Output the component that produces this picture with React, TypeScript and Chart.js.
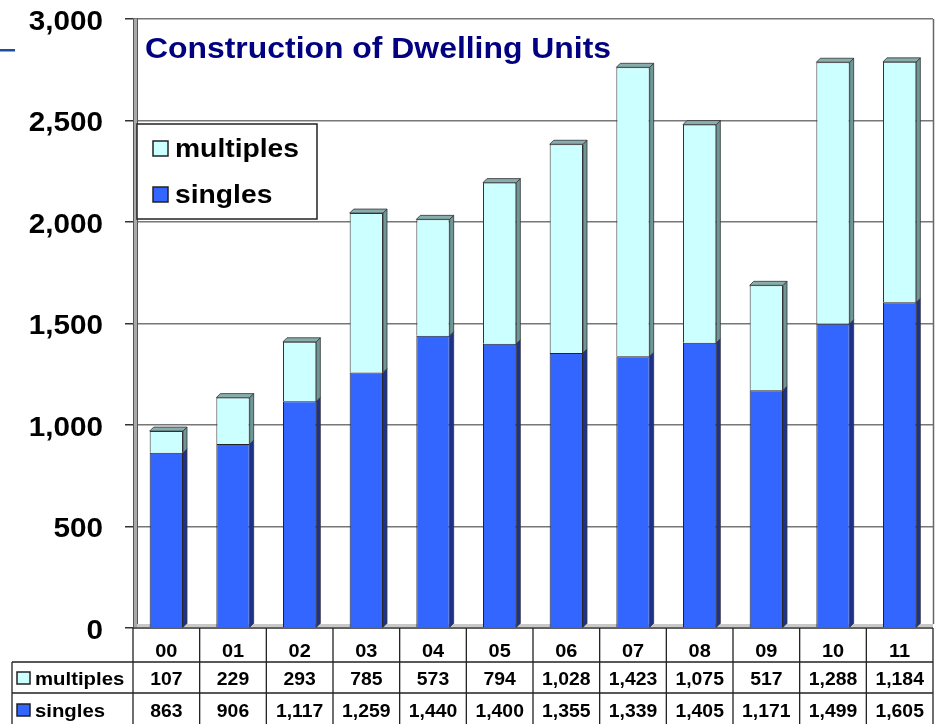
import { useEffect, useRef } from 'react';
import { Chart, registerables } from 'chart.js';

Chart.register(...registerables);

const categories = ['00', '01', '02', '03', '04', '05', '06', '07', '08', '09', '10', '11'];
const singles = [863, 906, 1117, 1259, 1440, 1400, 1355, 1339, 1405, 1171, 1499, 1605];
const multiples = [107, 229, 293, 785, 573, 794, 1028, 1423, 1075, 517, 1288, 1184];
const yTickValues = [0, 500, 1000, 1500, 2000, 2500, 3000];
const yTickLabels = ['0', '500', '1,000', '1,500', '2,000', '2,500', '3,000'];
const seriesNames = ['multiples', 'singles'];
const chartTitle = 'Construction of Dwelling Units';

const FONT = 'Arial, "Liberation Sans", Helvetica, sans-serif';
const COL_SINGLES = '#3366ff';
const COL_MULTIPLES = '#ccffff';
const SIDE_SINGLES = '#1c328c';
const SIDE_MULTIPLES = '#6f9797';
const TOP_MULTIPLES = '#88adad';
const LINE = '#222222';

function drawText(
  ctx: CanvasRenderingContext2D,
  s: string,
  x: number,
  y: number,
  align: 'left' | 'right' | 'center',
  size: number,
  color: string,
  sx: number,
  bold = true
) {
  ctx.save();
  ctx.font = `${bold ? 'bold ' : ''}${size}px ${FONT}`;
  ctx.fillStyle = color;
  ctx.textBaseline = 'alphabetic';
  ctx.textAlign = 'left';
  const w = ctx.measureText(s).width * sx;
  const left = align === 'left' ? x : align === 'right' ? x - w : x - w / 2;
  ctx.translate(left, y);
  ctx.scale(sx, 1);
  ctx.fillText(s, 0, 0);
  ctx.restore();
}

function fmt(v: number) {
  return v.toLocaleString('en-US');
}

const decoPlugin = {
  id: 'deco3d',
  beforeDatasetsDraw(chart: any) {
    const { ctx, chartArea: a } = chart;
    ctx.save();
    // floor band
    ctx.fillStyle = '#c8c8c8';
    ctx.fillRect(a.left, a.bottom - 4, a.right - a.left, 4);
    // left wall
    ctx.fillStyle = '#a9a9a9';
    ctx.fillRect(a.left, a.top, 4, a.bottom - a.top);
    ctx.strokeStyle = '#555';
    ctx.lineWidth = 1;
    ctx.beginPath();
    ctx.moveTo(a.left + 0.5, a.top);
    ctx.lineTo(a.left + 0.5, a.bottom);
    ctx.moveTo(a.left + 4.5, a.top - 1);
    ctx.lineTo(a.left + 4.5, a.bottom - 4);
    ctx.stroke();
    // floor line
    ctx.strokeStyle = '#444';
    ctx.lineWidth = 1.5;
    ctx.beginPath();
    ctx.moveTo(a.left, a.bottom);
    ctx.lineTo(a.right, a.bottom);
    ctx.stroke();
    // right border of back wall
    ctx.strokeStyle = '#666';
    ctx.lineWidth = 1.5;
    ctx.beginPath();
    ctx.moveTo(a.right + 0.5, a.top);
    ctx.lineTo(a.right + 0.5, a.bottom - 4);
    ctx.stroke();
    ctx.restore();
  },
  afterDatasetsDraw(chart: any) {
    const { ctx } = chart;
    const d = 4;
    const nSets = chart.data.datasets.length;
    ctx.save();
    ctx.lineWidth = 0.8;
    ctx.strokeStyle = '#333';
    for (let di = 0; di < nSets; di++) {
      const meta = chart.getDatasetMeta(di);
      const side = di === 0 ? SIDE_SINGLES : SIDE_MULTIPLES;
      meta.data.forEach((el: any) => {
        const { x, y, base, width } = el.getProps(['x', 'y', 'base', 'width'], true);
        const l = x - width / 2;
        const r = x + width / 2;
        ctx.fillStyle = side;
        ctx.beginPath();
        ctx.moveTo(r, y);
        ctx.lineTo(r + d, y - d);
        ctx.lineTo(r + d, base - d);
        ctx.lineTo(r, base);
        ctx.closePath();
        ctx.fill();
        ctx.stroke();
        if (di === nSets - 1) {
          ctx.fillStyle = TOP_MULTIPLES;
          ctx.beginPath();
          ctx.moveTo(l, y);
          ctx.lineTo(l + d, y - d);
          ctx.lineTo(r + d, y - d);
          ctx.lineTo(r, y);
          ctx.closePath();
          ctx.fill();
          ctx.stroke();
        }
      });
    }
    ctx.restore();
  },
  afterDraw(chart: any) {
    const { ctx, chartArea: a } = chart;
    const ys = chart.scales.y;
    const xs = chart.scales.x;

    // blue dash at top-left
    ctx.save();
    ctx.fillStyle = '#1f4e9e';
    ctx.fillRect(0, 49, 15, 2.5);
    ctx.restore();

    // y tick labels
    ys.ticks.forEach((t: any) => {
      const py = ys.getPixelForValue(t.value);
      drawText(ctx, String(t.label), 103, py + 10.5, 'right', 27, '#000', 1.1);
    });

    // title
    drawText(ctx, chartTitle, a.left + 12, 58, 'left', 29, '#000080', 1.1);

    // legend
    const lx = a.left + 4;
    const ly = 124;
    ctx.save();
    ctx.fillStyle = '#fff';
    ctx.fillRect(lx, ly, 180, 95);
    ctx.strokeStyle = LINE;
    ctx.lineWidth = 1.5;
    ctx.strokeRect(lx, ly, 180, 95);
    const legendColors = [COL_MULTIPLES, COL_SINGLES];
    const legendBase = [157, 203];
    seriesNames.forEach((name, i) => {
      ctx.fillStyle = legendColors[i];
      ctx.fillRect(lx + 16, legendBase[i] - 16, 15, 15);
      ctx.strokeStyle = LINE;
      ctx.lineWidth = 1.5;
      ctx.strokeRect(lx + 16, legendBase[i] - 16, 15, 15);
      drawText(ctx, name, lx + 38, legendBase[i], 'left', 25, '#000', 1.13);
    });
    ctx.restore();

    // data table
    const n = categories.length;
    const w = (a.right - a.left) / n;
    const rowTop = [a.bottom, 662, 693];
    const tableBottom = 724;
    ctx.save();
    ctx.strokeStyle = LINE;
    ctx.lineWidth = 1.3;
    ctx.beginPath();
    for (let i = 0; i <= n; i++) {
      const px = i < n ? xs.getPixelForValue(i) - w / 2 : xs.getPixelForValue(n - 1) + w / 2;
      ctx.moveTo(px, a.bottom);
      ctx.lineTo(px, tableBottom);
    }
    ctx.moveTo(12, rowTop[1]);
    ctx.lineTo(a.right, rowTop[1]);
    ctx.moveTo(12, rowTop[2]);
    ctx.lineTo(a.right, rowTop[2]);
    ctx.moveTo(12, rowTop[1]);
    ctx.lineTo(12, tableBottom);
    ctx.stroke();
    ctx.restore();

    categories.forEach((c, i) => {
      const px = xs.getPixelForValue(i);
      drawText(ctx, c, px, 657, 'center', 19, '#000', 1.05);
      drawText(ctx, fmt(multiples[i]), px, 685, 'center', 19, '#000', 1.02);
      drawText(ctx, fmt(singles[i]), px, 717, 'center', 19, '#000', 1.02);
    });

    const rowBase = [685, 717];
    seriesNames.forEach((name, i) => {
      ctx.save();
      ctx.fillStyle = legendColors[i];
      ctx.fillRect(17, rowBase[i] - 13, 13, 12);
      ctx.strokeStyle = LINE;
      ctx.lineWidth = 1.5;
      ctx.strokeRect(17, rowBase[i] - 13, 13, 12);
      ctx.restore();
      drawText(ctx, name, 35, rowBase[i], 'left', 19, '#000', 1.07);
    });
  },
};

export default function App() {
  const ref = useRef<HTMLCanvasElement | null>(null);

  useEffect(() => {
    if (!ref.current) return;
    const chart = new Chart(ref.current, {
      type: 'bar',
      data: {
        labels: categories,
        datasets: [
          {
            label: seriesNames[1],
            data: singles,
            backgroundColor: COL_SINGLES,
            borderColor: '#222',
            borderWidth: 1,
            categoryPercentage: 1,
            barPercentage: 0.5,
            stack: 's',
          },
          {
            label: seriesNames[0],
            data: multiples,
            backgroundColor: COL_MULTIPLES,
            borderColor: '#333',
            borderWidth: 1,
            categoryPercentage: 1,
            barPercentage: 0.5,
            stack: 's',
          },
        ],
      },
      options: {
        responsive: false,
        animation: false,
        events: [],
        layout: { padding: { top: 19, right: 3, bottom: 96, left: 0 } },
        plugins: {
          legend: { display: false },
          title: { display: false },
          tooltip: { enabled: false },
        },
        scales: {
          x: {
            display: false,
            stacked: true,
            grid: { display: false },
          },
          y: {
            stacked: true,
            min: 0,
            max: 3000,
            afterBuildTicks: (scale: any) => {
              scale.ticks = yTickValues.map((v) => ({ value: v }));
            },
            afterFit: (scale: any) => {
              scale.width = 133;
            },
            ticks: {
              display: false,
              stepSize: 500,
              callback: (v: any) => {
                const i = yTickValues.indexOf(Number(v));
                return i >= 0 ? yTickLabels[i] : '';
              },
            },
            border: { display: false },
            grid: {
              color: '#777',
              lineWidth: 1.5,
              drawTicks: true,
              tickLength: 8,
              tickColor: '#333',
              tickWidth: 1.5,
            },
          },
        },
      },
      plugins: [decoPlugin],
    });
    return () => chart.destroy();
  }, []);

  return (
    <div style={{ position: 'absolute', left: 0, top: 0, width: 936, height: 724, background: '#fff' }}>
      <canvas ref={ref} width={936} height={724} style={{ display: 'block' }} />
    </div>
  );
}
